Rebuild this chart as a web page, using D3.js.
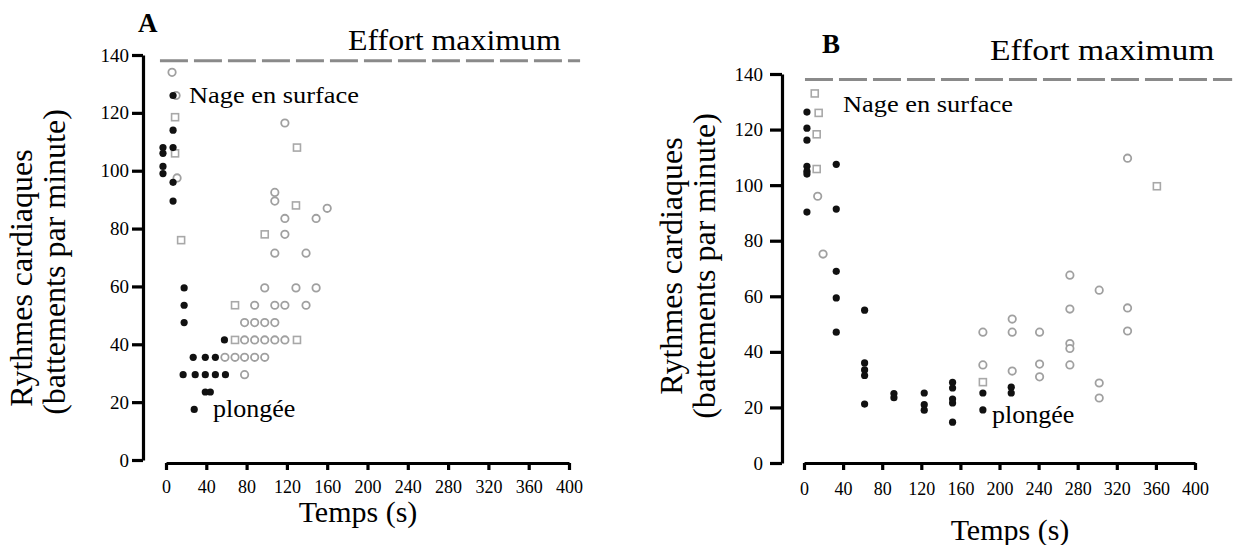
<!DOCTYPE html>
<html>
<head>
<meta charset="utf-8">
<script src="https://cdn.jsdelivr.net/npm/d3@7"></script>
<style>
  body { margin: 0; background: #fff; }
  svg { display: block; font-family: "Liberation Serif", "Times New Roman", serif; }
</style>
</head>
<body>
<svg id="chart" width="1236" height="545"></svg>
<script>
// values: [temps (s), rythme (bpm)]
const xTicks = [0, 40, 80, 120, 160, 200, 240, 280, 320, 360, 400];
const yTicks = [0, 20, 40, 60, 80, 100, 120, 140];
const effortMax = 138;

const aPlongee = [[-3,108],[-3,106],[-3,101.5],[-3,99],[7,126],[7,114],[7,108],[7,96],[7,89.5],
  [18,59.5],[18,53.5],[18,47.5],[58,41.5],[27,35.5],[39,35.5],[49,35.5],
  [17,29.5],[29,29.5],[39,29.5],[49,29.5],[59,29.5],[39,23.5],[44,23.5],[28,17.5]];
const aCercles = [[6,134],[10,126],[11,97.5],[118,116.5],[108,92.5],[108,89.5],[160,87],[118,83.5],[149,83.5],
  [118,78],[108,71.5],[139,71.5],[98,59.5],[129,59.5],[149,59.5],[88,53.5],[108,53.5],[118,53.5],[139,53.5],
  [78,47.5],[88,47.5],[98,47.5],[108,47.5],[78,41.5],[88,41.5],[98,41.5],[108,41.5],[118,41.5],
  [58.5,35.5],[68.5,35.5],[78,35.5],[88,35.5],[98,35.5],[78,29.5]];
const aCarres = [[9,118.5],[9,106],[15,76],[130,108],[129,88],[98,78],[68.5,53.5],[68.5,41.5],[130,41.5]];

const bPlongee = [[3,126.3],[3,120.5],[3,116.2],[3,106.8],[3,105],[3,104],[3,90.3],[33,107.5],[33,91.4],
  [33,69],[33,59.4],[33,47.1],[62,55],[62,36],[62,33.5],[62,31.5],[62,21.2],[92,25],[92,23.5],
  [123,25.2],[123,21],[123,19],[152,29],[152,27],[152,23],[152,21.6],[152,14.7],[183,25.2],[183,19.1],
  [212,27.3],[212,25.2]];
const bCercles = [[14,96],[19.5,75.2],[183,47.1],[183,35.3],[213,51.8],[213,47.1],[213,33.1],
  [241,47.1],[241,35.6],[241,31],[272,67.6],[272,55.4],[272,43],[272,41.2],[272,35.3],
  [302,62.2],[302,28.8],[302,23.4],[331,55.8],[331,47.5],[331,109.7]];
const bCarres = [[11,133],[15,126],[13,118.3],[13,105.8],[183,29.1],[361,99.6]];

const svg = d3.select('#chart');
const serif = '"Liberation Serif", "Times New Roman", serif';

function drawPanel(p) {
    const x = d3.scaleLinear().domain([0, 400]).range(p.xRange);
    const y = d3.scaleLinear().domain([0, 140]).range(p.yRange);
    const g = svg.append('g').style('font-family', serif);

    // axes
    const yAxis = g.append('g')
        .attr('transform', `translate(${p.yAxisX},0)`)
        .call(d3.axisLeft(y).tickValues(yTicks).tickSize(p.yTickSize).tickSizeOuter(0).tickPadding(p.yPad));
    const xAxis = g.append('g')
        .attr('transform', `translate(0,${p.xAxisY})`)
        .call(d3.axisBottom(x).tickValues(xTicks).tickSize(7).tickSizeOuter(0).tickPadding(p.xPad));
    [yAxis, xAxis].forEach(a => {
        a.attr('font-family', null);
        a.select('.domain').attr('stroke', '#000').attr('stroke-width', 3.2);
        a.selectAll('.tick line').attr('stroke', '#000').attr('stroke-width', 3.2);
        a.selectAll('.tick text').attr('fill', '#000').style('font-family', serif);
    });
    yAxis.selectAll('.tick text').style('font-size', '19px');
    xAxis.selectAll('.tick text').style('font-size', '18px');

    // effort maximum
    g.append('line')
        .attr('x1', x(p.lineFrom)).attr('x2', x(p.lineTo))
        .attr('y1', y(effortMax)).attr('y2', y(effortMax))
        .attr('stroke', '#8a8a8a').attr('stroke-width', 3)
        .attr('stroke-dasharray', '28 6');

    // points
    g.selectAll('rect.carre').data(p.carres).enter().append('rect')
        .attr('x', d => x(d[0]) - 3.5).attr('y', d => y(d[1]) - 3.5)
        .attr('width', 7).attr('height', 7)
        .attr('fill', '#fff').attr('stroke', '#a8a8a8').attr('stroke-width', 1.6);
    g.selectAll('circle.cercle').data(p.cercles).enter().append('circle')
        .attr('cx', d => x(d[0])).attr('cy', d => y(d[1])).attr('r', 3.7)
        .attr('fill', '#fff').attr('stroke', '#a0a0a0').attr('stroke-width', 1.8);
    g.selectAll('circle.plongee').data(p.plongee).enter().append('circle')
        .attr('cx', d => x(d[0])).attr('cy', d => y(d[1])).attr('r', 3.6)
        .attr('fill', '#111');

    // texts
    g.append('text').attr('x', p.label[0]).attr('y', p.label[1])
        .style('font-size', '27px').style('font-weight', 'bold').text(p.name);
    g.append('text')
        .attr('transform', `translate(${p.effort[0]},${p.effort[1]}) scale(${p.effort[2]},1)`)
        .style('font-size', '29px').text('Effort maximum');
    g.append('text')
        .attr('transform', `translate(${p.nage[0]},${p.nage[1]}) scale(1.1,1)`)
        .style('font-size', '24px').text('Nage en surface');
    g.append('text').attr('x', p.plong[0]).attr('y', p.plong[1])
        .style('font-size', '26px').text('plongée');
    g.append('text').attr('x', p.temps[0]).attr('y', p.temps[1])
        .attr('text-anchor', 'middle').style('font-size', '30px').text('Temps (s)');
    g.append('text')
        .attr('transform', `translate(${p.yTitleX[0]},${p.yTitleY[0]}) rotate(-90)`)
        .attr('text-anchor', 'middle').style('font-size', '32px').text('Rythmes cardiaques');
    g.append('text')
        .attr('transform', `translate(${p.yTitleX[1]},${p.yTitleY[1]}) rotate(-90)`)
        .attr('text-anchor', 'middle').style('font-size', '32px').text('(battements par minute)');
}

drawPanel({
    name: 'A', plongee: aPlongee, cercles: aCercles, carres: aCarres,
    xRange: [166, 569], yRange: [460, 55], yAxisX: 143, xAxisY: 463,
    yTickSize: 11, yPad: 3, xPad: 10, lineFrom: -6, lineTo: 411,
    label: [138, 32], effort: [348, 50, 1.1], nage: [189, 103], plong: [213, 417],
    temps: [358, 522], yTitleY: [278, 262], yTitleX: [32, 65]
});

drawPanel({
    name: 'B', plongee: bPlongee, cercles: bCercles, carres: bCarres,
    xRange: [804, 1195], yRange: [463, 74], yAxisX: 782, xAxisY: 463,
    yTickSize: 12, yPad: 7, xPad: 12, lineFrom: 1, lineTo: 438,
    label: [822, 53], effort: [990, 60, 1.16], nage: [843, 112], plong: [992, 423],
    temps: [1010, 540], yTitleY: [266, 266], yTitleX: [682, 715]
});
</script>
</body>
</html>
